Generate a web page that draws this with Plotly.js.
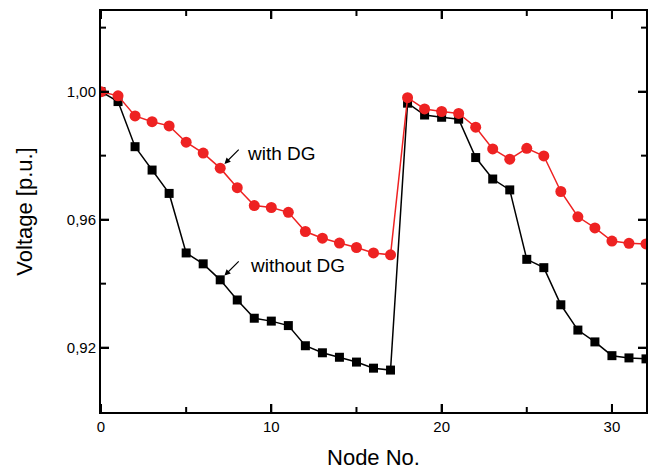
<!DOCTYPE html>
<html>
<head>
<meta charset="utf-8">
<script src="https://cdn.plot.ly/plotly-3.0.1.min.js"></script>
<style>html,body{margin:0;padding:0;background:#fff;}#chart{width:654px;height:470px;}</style>
</head>
<body>
<div id="chart"></div>
<script>
const nodes = [0,1,2,3,4,5,6,7,8,9,10,11,12,13,14,15,16,17,18,19,20,21,22,23,24,25,26,27,28,29,30,31,32];
const withoutDG = [1.000,0.9969,0.9828,0.9755,0.9682,0.9496,0.9462,0.9412,0.9349,0.9292,0.9283,0.9269,0.9206,0.9184,0.9170,0.9155,0.9136,0.9130,
                   0.9964,0.9927,0.9920,0.9914,0.9794,0.9727,0.9693,0.9476,0.9450,0.9334,0.9255,0.9218,0.9175,0.9168,0.9165];
const withDG = [1.000,0.9987,0.9924,0.9906,0.9893,0.9842,0.9808,0.9761,0.9700,0.9644,0.9638,0.9623,0.9563,0.9542,0.9527,0.9513,0.9496,0.9490,
                0.9981,0.9946,0.9938,0.9932,0.9889,0.9821,0.9789,0.9823,0.9799,0.9688,0.9609,0.9574,0.9533,0.9526,0.9524];
const xMajorTicks = [0, 10, 20, 30];
const xMinorTicks = [5, 15, 25];
const yMajorTicks = [0.92, 0.96, 1.00];
const yMinorTicks = [0.94, 0.98, 1.02];
const labelWith = "with DG";
const labelWithout = "without DG";
const xTitle = "Node No.";
const yTitle = "Voltage [p.u.]";

const font = "Liberation Sans, Arial, sans-serif";

const traces = [
  {x: nodes, y: withoutDG, mode: 'lines+markers', name: labelWithout,
   line: {color: '#000000', width: 1.5},
   marker: {symbol: 'square', size: 9, color: '#000000'}},
  {x: nodes, y: withDG, mode: 'lines+markers', name: labelWith,
   line: {color: '#ee2222', width: 1.5},
   marker: {symbol: 'circle', size: 11, color: '#ee2222'}}
];

function axis(extra) {
  return Object.assign({
    showgrid: false, zeroline: false, showline: true, linecolor: '#000000', linewidth: 2,
    mirror: 'allticks', ticks: 'inside', ticklen: 8, tickwidth: 2, tickcolor: '#000000',
    layer: 'above traces',
    tickfont: {family: font, size: 15, color: '#000'}
  }, extra);
}

// inside tick marks on all four sides, placed through the axes
const tickShapes = [];
function xTick(v, len) {
  const base = {type: 'line', xref: 'x', yref: 'paper', ysizemode: 'pixel', x0: v, x1: v,
                line: {color: '#000', width: 2}, layer: 'above'};
  tickShapes.push(Object.assign({}, base, {yanchor: 0, y0: 0, y1: len}));
  tickShapes.push(Object.assign({}, base, {yanchor: 1, y0: 0, y1: -len}));
}
function yTick(v, len) {
  const base = {type: 'line', xref: 'paper', yref: 'y', xsizemode: 'pixel', y0: v, y1: v,
                line: {color: '#000', width: 2}, layer: 'above'};
  tickShapes.push(Object.assign({}, base, {xanchor: 0, x0: 0, x1: len}));
  tickShapes.push(Object.assign({}, base, {xanchor: 1, x0: 0, x1: -len}));
}
xMajorTicks.forEach(v => xTick(v, 8));
xMinorTicks.forEach(v => xTick(v, 5));
yMajorTicks.forEach(v => yTick(v, 8));
yMinorTicks.forEach(v => yTick(v, 5));

const layout = {
  width: 654, height: 470,
  margin: {l: 101, r: 8, t: 11, b: 58},
  paper_bgcolor: '#ffffff', plot_bgcolor: '#ffffff',
  showlegend: false,
  separators: ',.',
  xaxis: axis({
    range: [0, 32], tick0: 0, dtick: 10,
    title: {text: xTitle, font: {family: font, size: 22, color: '#000'}, standoff: 17}
  }),
  yaxis: axis({
    range: [0.8999, 1.0252], tick0: 0, dtick: 0.04, tickformat: '.2f',
    title: {text: yTitle, font: {family: font, size: 22, color: '#000'}, standoff: 28}
  }),
  shapes: tickShapes,
  annotations: [
    {x: nodes[7], y: withDG[7], xref: 'x', yref: 'y', text: '', showarrow: true,
     ax: 20, ay: -20, arrowhead: 2, arrowsize: 1, arrowwidth: 1.2, arrowcolor: '#000', standoff: 6},
    {x: nodes[7], y: withoutDG[7], xref: 'x', yref: 'y', text: '', showarrow: true,
     ax: 20, ay: -20, arrowhead: 2, arrowsize: 1, arrowwidth: 1.2, arrowcolor: '#000', standoff: 6},
    {x: 8.45, y: withDG[6], xref: 'x', yref: 'y', text: labelWith, showarrow: false,
     xanchor: 'left', yanchor: 'middle', font: {family: font, size: 19, color: '#000'}},
    {x: 8.65, y: withoutDG[6] - 0.0005, xref: 'x', yref: 'y', text: labelWithout, showarrow: false,
     xanchor: 'left', yanchor: 'middle', font: {family: font, size: 19, color: '#000'}}
  ]
};

Plotly.newPlot('chart', traces, layout, {displayModeBar: false, staticPlot: true});
</script>
</body>
</html>
